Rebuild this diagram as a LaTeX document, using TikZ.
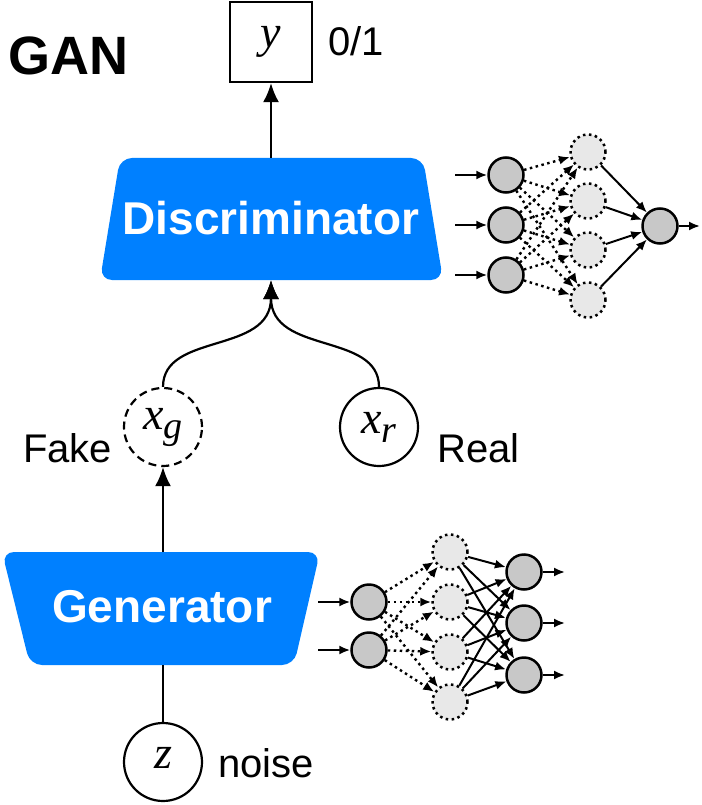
\documentclass[tikz,border=0pt]{standalone}
\usepackage{fontspec}
\setmainfont{Liberation Sans}
\newfontfamily\serifvar{Liberation Serif}
\usepackage{tikz}
\usetikzlibrary{arrows.meta, positioning}
\definecolor{azulgan}{RGB}{0,128,255}
\newcommand{\varit}[2]{{\serifvar\itshape #1\raisebox{-9pt}{\fontsize{38}{42}\selectfont #2}}}

\begin{document}
\begin{tikzpicture}[x=1pt, y=-1pt,
    etiqueta/.style={font=\fontsize{40}{48}\selectfont, inner sep=0pt, anchor=base west},
    circvar/.style={circle, draw, line width=2.2pt, minimum size=78pt, inner sep=0pt, font=\fontsize{46}{52}\selectfont},
    bloque/.style={fill=azulgan, rounded corners=12pt},
    titulo/.style={text=white, inner sep=0pt, font=\fontsize{46}{54}\selectfont\bfseries},
    flecha/.style={line width=2.2pt, -{Latex[length=19pt,width=16pt]}},
    neurona/.style={circle, draw, line width=2.5pt, fill=gray!43, minimum size=35pt, inner sep=0pt},
    oculta/.style={neurona, fill=gray!18, dash pattern=on 2.5pt off 3.5pt},
    conexion/.style={line width=2pt, -{Latex[length=11pt,width=9pt]}},
    punteada/.style={conexion, line width=2.4pt, dash pattern=on 2.5pt off 3.5pt}
]
    \useasboundingbox (0,0) rectangle (701,805);
    % Titulo y salida
    \node[font=\fontsize{54}{60}\selectfont\bfseries, inner sep=0pt, anchor=base west] (gan) at (8,75) {GAN};
    \node[draw, line width=2.2pt, minimum width=82pt, minimum height=80pt, inner sep=0pt, font=\fontsize{46}{52}\selectfont] (yout) at (271,42) {\varit{y}{}};
    \node[etiqueta] (clase) at (328,56) {0/1};

    % Bloques principales
    \fill[bloque] (100,280) -- (120,158) -- (423,158) -- (443,280) -- cycle;
    \node[titulo] (disc) at (271,218) {Discriminator};
    \coordinate (discarriba) at (271,158);
    \coordinate (discabajo) at (271,280);
    \fill[bloque] (2,552) -- (320,552) -- (294,665) -- (30,665) -- cycle;
    \node[titulo] (gen) at (162,607) {Generator};
    \coordinate (genarriba) at (163,552);
    \coordinate (genabajo) at (163,665);

    % Variables
    \node[circvar, dashed, dash pattern=on 8pt off 5pt] (xg) at (163,427) {\varit{x}{g}};
    \node[circvar] (xr) at (379,427) {\varit{x}{r}};
    \node[circvar] (z) at (163,762) {\varit{z}{}};
    \node[etiqueta] (falso) at (23,462) {Fake};
    \node[etiqueta] (real) at (437,462) {Real};
    \node[etiqueta] (ruido) at (218,777) {noise};

    % Conexiones
    \draw[flecha] (discarriba) -- (yout.south);
    \draw[flecha] (xg.north) .. controls +(0,-55) and +(0,75) .. (discabajo);
    \draw[flecha] (xr.north) .. controls +(0,-55) and +(0,75) .. (discabajo);
    \draw[flecha] (genarriba) -- (xg.south);
    \draw[line width=2.2pt] (z.north) -- (genabajo);

    % Red del discriminador
    \foreach \i/\y in {1/175,2/225,3/275} {
        \node[neurona] (di\i) at (506,\y) {};
        \coordinate (ei\i) at (455,\y);
        \draw[conexion] (ei\i) -- (di\i);
    }
    \foreach \j/\y in {1/152,2/201,3/250,4/300} {
        \node[oculta] (dh\j) at (588,\y) {};
    }
    \node[neurona] (dout) at (660,226) {};
    \coordinate (ds) at (700,226);
    \foreach \i in {1,2,3} {
        \foreach \j in {1,...,4} {
            \draw[punteada] (di\i) -- (dh\j);
        }
    }
    \foreach \j in {1,...,4} {
        \draw[conexion] (dh\j) -- (dout);
    }
    \draw[conexion] (dout) -- (ds);

    % Red del generador
    \foreach \i/\y in {1/602,2/650} {
        \node[neurona] (gi\i) at (369,\y) {};
        \coordinate (gei\i) at (318,\y);
        \draw[conexion] (gei\i) -- (gi\i);
    }
    \foreach \j/\y in {1/552,2/602,3/652,4/702} {
        \node[oculta] (gh\j) at (450,\y) {};
    }
    \foreach \k/\y in {1/572,2/623,3/675} {
        \node[neurona] (go\k) at (524,\y) {};
        \coordinate (gs\k) at (565,\y);
        \draw[conexion] (go\k) -- (gs\k);
    }
    \foreach \i in {1,2} {
        \foreach \j in {1,...,4} {
            \draw[punteada] (gi\i) -- (gh\j);
        }
    }
    \foreach \j in {1,...,4} {
        \foreach \k in {1,2,3} {
            \draw[conexion] (gh\j) -- (go\k);
        }
    }
\end{tikzpicture}
\end{document}
